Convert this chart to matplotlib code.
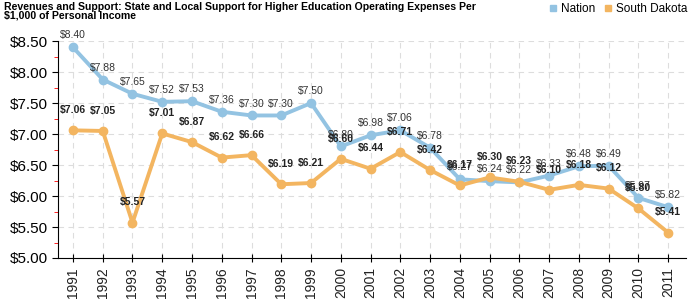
import numpy as np
import matplotlib.pyplot as plt
from matplotlib.ticker import MultipleLocator, FuncFormatter

plt.rcParams['font.family'] = ['Liberation Sans', 'DejaVu Sans']

years = [str(y) for y in range(1991, 2012)]
nation = [8.40, 7.88, 7.65, 7.52, 7.53, 7.36, 7.30, 7.30, 7.50, 6.80, 6.98,
          7.06, 6.78, 6.27, 6.24, 6.22, 6.33, 6.48, 6.49, 5.97, 5.82]
south_dakota = [7.06, 7.05, 5.57, 7.01, 6.87, 6.62, 6.66, 6.19, 6.21, 6.60, 6.44,
                6.71, 6.42, 6.17, 6.30, 6.23, 6.10, 6.18, 6.12, 5.80, 5.41]

blue = '#93c3e2'
orange = '#f3b560'

fig = plt.figure(figsize=(7, 3), dpi=100)
ax = fig.add_axes([0.083, 0.14, 0.897, 0.723])
x = np.arange(len(years))

ax.plot(x, nation, color=blue, lw=2.8, marker='o', ms=6, zorder=3, label='Nation')
ax.plot(x, south_dakota, color=orange, lw=2.8, marker='o', ms=6, zorder=3, label='South Dakota')

for xi, v in zip(x, nation):
    ax.annotate('$%.2f' % v, (xi, v), xytext=(0, 5), textcoords='offset points',
                ha='center', va='bottom', fontsize=7.5, color='#333333', clip_on=False)
for xi, v in zip(x, south_dakota):
    ax.annotate('$%.2f' % v, (xi, v), xytext=(0, 11), textcoords='offset points',
                ha='center', va='bottom', fontsize=7.5, fontweight='bold', color='#222222')

ax.set_xlim(-0.5, 20.6)
ax.set_ylim(5.0, 8.5)
ax.set_xticks(x)
ax.set_xticklabels(years, rotation=90, fontsize=10, color='#222222')
ax.yaxis.set_major_locator(MultipleLocator(0.5))
ax.yaxis.set_minor_locator(MultipleLocator(0.25))
ax.yaxis.set_major_formatter(FuncFormatter(lambda v, p: '$%.2f' % v))
ax.tick_params(axis='y', labelsize=11, length=4, direction='out')
ax.tick_params(axis='y', which='minor', length=3, color='red')
ax.tick_params(axis='x', length=6, direction='inout')

ax.grid(True, color='#dddddd', linestyle=(0, (5, 4)), lw=0.8)
ax.set_axisbelow(True)
for s in ['top', 'right']:
    ax.spines[s].set_visible(False)

fig.text(0.006, 0.995, 'Revenues and Support: State and Local Support for Higher Education Operating Expenses Per\n$1,000 of Personal Income',
         ha='left', va='top', fontsize=7.6, fontweight='bold', linespacing=0.9)

ax.legend(loc='upper right', bbox_to_anchor=(0.982, 0.99), bbox_transform=fig.transFigure,
          ncol=2, frameon=False, borderpad=0, borderaxespad=0,
          fontsize=8.5, handlelength=0.7, handletextpad=0.3, columnspacing=0.8,
          markerscale=0.8)
leg = ax.get_legend()
for h in leg.legend_handles:
    h.set_marker('s')
    h.set_linestyle('')

fig.savefig('out.png', dpi=100)
